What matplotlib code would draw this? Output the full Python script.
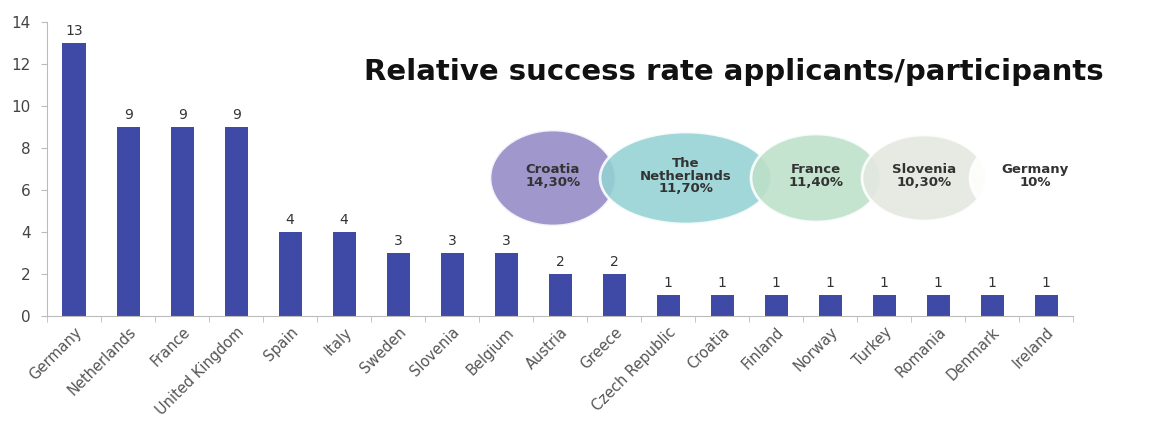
import matplotlib
matplotlib.use("Agg")
import matplotlib.pyplot as plt
from matplotlib.patches import Ellipse
import numpy as np

countries = ["Germany", "Netherlands", "France", "United Kingdom", "Spain", "Italy",
             "Sweden", "Slovenia", "Belgium", "Austria", "Greece", "Czech Republic",
             "Croatia", "Finland", "Norway", "Turkey", "Romania", "Denmark", "Ireland"]
counts = [13, 9, 9, 9, 4, 4, 3, 3, 3, 2, 2, 1, 1, 1, 1, 1, 1, 1, 1]

rate_labels = ["Croatia\n14,30%", "The\nNetherlands\n11,70%", "France\n11,40%",
               "Slovenia\n10,30%", "Germany\n10%"]
rate_colors = ["#938ac6", "#95d2d4", "#bde1ca", "#e4e8e0", "#ffffff"]

title = "Relative success rate applicants/participants"

fig = plt.figure(figsize=(11.49, 4.21), dpi=100)
ax = fig.add_axes([0.041, 0.249, 0.893, 0.699])

x = np.arange(len(countries))
ax.bar(x, counts, width=0.43, color="#3f49a6")
for xi, c in zip(x, counts):
    ax.text(xi, c + 0.25, str(c), ha="center", va="bottom", fontsize=10, color="#333333")

ax.set_xlim(-0.5, len(countries) - 0.5)
ax.set_ylim(0, 14)
ax.set_yticks(range(0, 15, 2))
ax.set_xticks(x)
ax.set_xticklabels(countries, rotation=45, ha="right", rotation_mode="anchor",
                   fontsize=10.5, color="#555555")
ax.set_xticks(np.arange(-0.5, len(countries), 1), minor=True)
ax.tick_params(axis="x", which="major", length=0, pad=6)
ax.tick_params(axis="x", which="minor", length=4, color="#bbbbbb")
ax.tick_params(axis="y", labelsize=11, colors="#444444", length=4, pad=8)
ax.tick_params(axis="y", color="#bbbbbb")
for s in ["top", "right"]:
    ax.spines[s].set_visible(False)
for s in ["left", "bottom"]:
    ax.spines[s].set_color("#bbbbbb")

# overlay in pixel space for the title and the bubbles
ov = fig.add_axes([0, 0, 1, 1], facecolor="none")
ov.set_xlim(0, 1149)
ov.set_ylim(421, 0)
ov.axis("off")
ov.text(734, 72, title, ha="center", va="center", fontsize=21,
        fontweight="bold", color="#111111")

centers = [553, 686, 816, 924, 1035]
widths = [126, 172, 130, 124, 130]
heights = [96, 92, 88, 86, 86]
for cx, w, h, col in zip(centers, widths, heights, rate_colors):
    ov.add_patch(Ellipse((cx, 178), w, h, facecolor=col, edgecolor="white",
                         linewidth=2, alpha=0.88))
for cx, lab in zip(centers, rate_labels):
    ov.text(cx, 176, lab, ha="center", va="center", fontsize=9.5,
            fontweight="bold", color="#333333", linespacing=0.95)

fig.savefig("out.png", dpi=100)
